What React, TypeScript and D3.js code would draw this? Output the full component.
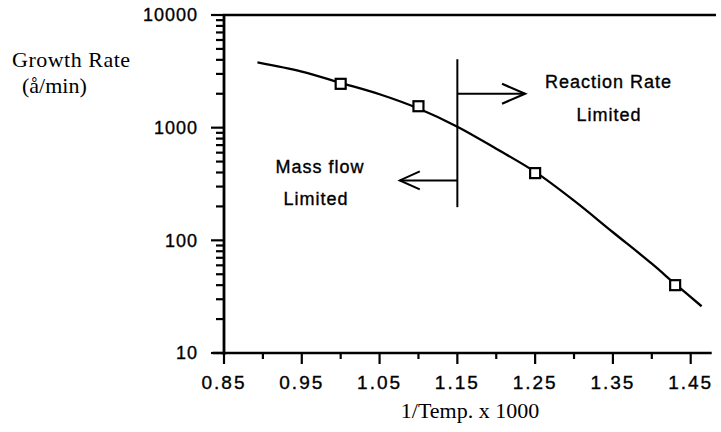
import React from 'react'
import * as d3 from 'd3'

// measured points (squares)
const pointTemp = [1.0, 1.1, 1.25, 1.43]
const pointRate = [2450, 1550, 395, 40]

// fitted curve
const curveTemp = [0.893, 0.95, 1.0, 1.05, 1.1, 1.15, 1.2, 1.25, 1.3, 1.35, 1.4, 1.43, 1.464]
const curveRate = [3800, 3150, 2500, 1980, 1480, 1020, 650, 405, 225, 118, 62, 41, 26]

// axis ticks
const xMajorTicks = [0.85, 0.95, 1.05, 1.15, 1.25, 1.35, 1.45]
const xMinorTicks = [0.9, 1.0, 1.1, 1.2, 1.3, 1.4]
const yMajorTicks = [10, 100, 1000, 10000]

// regime boundary
const boundaryTemp = 1.15

const sans = '"Liberation Sans", Arial, Helvetica, sans-serif'
const serif = '"Liberation Serif", "Times New Roman", serif'

const App = () => {
    const width = 721
    const height = 432

    const x = d3.scaleLinear().domain([0.85, 1.45]).range([224, 690.7])
    const y = d3.scaleLog().domain([10, 10000]).range([353, 15])

    // minor ticks 2..9 for each decade
    const yMinorTicks: number[] = []
    yMajorTicks.slice(0, -1).forEach((d) => {
        for (let k = 2; k <= 9; k++) yMinorTicks.push(d * k)
    })

    const curveData = curveTemp.map((t, i) => [t, curveRate[i]] as [number, number])
    const line = d3
        .line<[number, number]>()
        .x((d) => x(d[0]))
        .y((d) => y(d[1]))
        .curve(d3.curveCatmullRom.alpha(0.5))

    const xEnd = x(1.477)
    const bx = x(boundaryTemp)

    // arrows
    const rightY = y(2000)
    const rightTip = x(1.237)
    const leftY = y(340)
    const leftTip = x(1.076)

    const sansText = { fontFamily: sans, fill: '#000', stroke: '#000', strokeWidth: 0.35 }

    return (
        <svg
            width={width}
            height={height}
            style={{ position: 'absolute', left: 0, top: 0, background: '#fff' }}
        >
            {/* frame: left axis, bottom axis, top line */}
            <line x1={x(0.85)} x2={x(0.85)} y1={y(10000)} y2={y(10) + 2} stroke="#000" strokeWidth={2.8} />
            <line x1={213} x2={xEnd} y1={y(10)} y2={y(10)} stroke="#000" strokeWidth={2.6} />
            <line x1={x(0.85) - 1} x2={716} y1={y(10000)} y2={y(10000)} stroke="#000" strokeWidth={2.6} />

            {/* y ticks */}
            {yMajorTicks.map((d) => (
                <g key={'ym' + d}>
                    <line x1={211} x2={x(0.85)} y1={y(d)} y2={y(d)} stroke="#000" strokeWidth={2.2} />
                    <text x={198} y={y(d)} dy="0.36em" textAnchor="end" fontSize={18} letterSpacing={1} {...sansText}>
                        {d}
                    </text>
                </g>
            ))}
            {yMinorTicks.map((d) => (
                <line key={'yn' + d} x1={216} x2={x(0.85)} y1={y(d)} y2={y(d)} stroke="#000" strokeWidth={2.2} />
            ))}

            {/* x ticks */}
            {xMajorTicks.map((d) => (
                <g key={'xm' + d}>
                    <line x1={x(d)} x2={x(d)} y1={y(10)} y2={y(10) + 11} stroke="#000" strokeWidth={2.2} />
                    <text x={x(d)} y={389} textAnchor="middle" fontSize={19} letterSpacing={2} {...sansText}>
                        {d.toFixed(2)}
                    </text>
                </g>
            ))}
            {xMinorTicks.map((d) => (
                <line key={'xn' + d} x1={x(d)} x2={x(d)} y1={y(10)} y2={y(10) + 6} stroke="#000" strokeWidth={2.2} />
            ))}

            {/* axis titles */}
            <text x={12} y={67} fontFamily={serif} fontSize={22} letterSpacing={0.5} fill="#000">
                Growth Rate
            </text>
            <text x={22} y={93} fontFamily={serif} fontSize={22} fill="#000">
                (å/min)
            </text>
            <text x={470} y={418} textAnchor="middle" fontFamily={serif} fontSize={22} fill="#000">
                1/Temp. x 1000
            </text>

            {/* curve */}
            <path d={line(curveData) || ''} fill="none" stroke="#000" strokeWidth={2.3} />

            {/* data squares */}
            {pointTemp.map((t, i) => (
                <rect
                    key={'p' + i}
                    x={x(t) - 5}
                    y={y(pointRate[i]) - 5}
                    width={10}
                    height={10}
                    fill="#fff"
                    stroke="#000"
                    strokeWidth={2.2}
                />
            ))}

            {/* boundary line and arrows */}
            <line x1={bx} x2={bx} y1={y(4050)} y2={y(197)} stroke="#000" strokeWidth={2} />
            <line x1={bx} x2={rightTip} y1={rightY} y2={rightY} stroke="#000" strokeWidth={2.2} />
            <polyline
                points={`${rightTip - 23},${rightY - 10} ${rightTip},${rightY} ${rightTip - 23},${rightY + 10}`}
                fill="none"
                stroke="#000"
                strokeWidth={2.2}
            />
            <line x1={bx} x2={leftTip} y1={leftY} y2={leftY} stroke="#000" strokeWidth={2} />
            <polyline
                points={`${leftTip + 20},${leftY - 9} ${leftTip},${leftY} ${leftTip + 20},${leftY + 9}`}
                fill="none"
                stroke="#000"
                strokeWidth={2}
            />

            {/* annotations */}
            <text x={545} y={88} fontSize={18} letterSpacing={1} {...sansText}>
                Reaction Rate
            </text>
            <text x={609} y={121} textAnchor="middle" fontSize={18} letterSpacing={1} {...sansText}>
                Limited
            </text>
            <text x={320} y={173} textAnchor="middle" fontSize={18} letterSpacing={1} {...sansText}>
                Mass flow
            </text>
            <text x={316} y={205} textAnchor="middle" fontSize={18} letterSpacing={1} {...sansText}>
                Limited
            </text>
        </svg>
    )
}

export default App
